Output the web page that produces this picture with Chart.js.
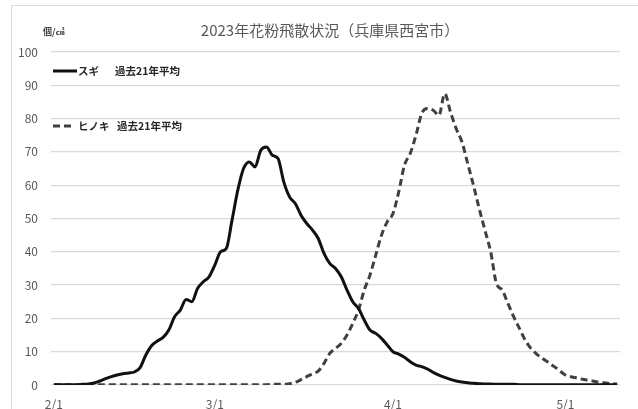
<!DOCTYPE html>
<html>
<head>
<meta charset="utf-8">
<script src="https://cdn.jsdelivr.net/npm/chart.js@4/dist/chart.umd.min.js"></script>
<style>
  html, body { margin: 0; padding: 0; background: #fff; }
  #wrap { position: relative; width: 638px; height: 409px; }
</style>
</head>
<body>
<div id="wrap"><canvas id="c"></canvas></div>
<script>
// ---- data ----
const monthSpans = [[2, 28], [3, 31], [4, 30], [5, 10]];
const tickLabels = ['2/1', '3/1', '4/1', '5/1'];
const yTicks = [0, 10, 20, 30, 40, 50, 60, 70, 80, 90, 100];
const titleText = '2023年花粉飛散状況（兵庫県西宮市）';
const unitText = '個/㎠';
const seriesNames = ['スギ', 'ヒノキ'];
const legendSuffix = '過去21年平均';

const sugi = [
  0.1, 0.1, 0.1, 0.1, 0.1, 0.2, 0.3, 0.6, 1.2, 1.9,
  2.5, 3.0, 3.4, 3.6, 3.9, 5.2, 9.0, 11.8, 13.2, 14.3,
  16.5, 20.5, 22.5, 25.7, 25.0, 29.0, 31.0, 32.5, 36.0, 40.0,
  41.0, 49.5, 58.5, 65.0, 67.0, 65.5, 70.5, 71.5, 69.0, 68.0,
  61.0, 56.5, 54.5, 51.0, 48.5, 46.5, 44.0, 39.5, 36.5, 35.0,
  32.5, 28.5, 25.0, 23.0, 19.5, 16.5, 15.5, 14.0, 12.0, 10.0,
  9.3, 8.3, 7.0, 6.0, 5.5, 4.8, 3.8, 3.0, 2.3, 1.7,
  1.2, 0.9, 0.7, 0.5, 0.4, 0.3, 0.3, 0.2, 0.2, 0.2,
  0.2, 0.1, 0.1, 0.1, 0.1, 0.1, 0.1, 0.1, 0.1, 0.1,
  0.1, 0.1, 0.1, 0.1, 0.1, 0.1, 0.1, 0.1, 0.1
];
const hinoki = [
  0.1, 0.1, 0.1, 0.1, 0.1, 0.1, 0.1, 0.1, 0.1, 0.1,
  0.1, 0.1, 0.1, 0.1, 0.1, 0.1, 0.1, 0.1, 0.1, 0.1,
  0.1, 0.1, 0.1, 0.1, 0.1, 0.1, 0.1, 0.1, 0.1, 0.1,
  0.1, 0.1, 0.1, 0.1, 0.1, 0.1, 0.1, 0.1, 0.2, 0.2,
  0.2, 0.4, 0.8, 1.6, 2.5, 3.4, 4.2, 6.5, 9.5, 11.0,
  12.5, 15.0, 18.5, 22.5, 28.5, 33.0, 39.0, 45.0, 49.0, 51.5,
  58.0, 66.0, 69.5, 75.0, 81.5, 83.0, 82.5, 81.0, 87.5, 82.0,
  77.0, 73.0, 66.5, 60.0, 53.0, 46.5, 40.0, 30.5, 28.5, 24.5,
  20.5, 17.0, 13.5, 11.0, 9.3, 8.0, 6.8, 5.6, 4.3, 3.0,
  2.5, 2.1, 1.7, 1.4, 1.1, 0.8, 0.6, 0.4, 0.3
];

// categories: every day from 2/1
const categories = [];
monthSpans.forEach(([m, n]) => { for (let d = 1; d <= n; d++) categories.push(m + '/' + d); });

const FONT = '"Noto Sans CJK JP", "Noto Sans", sans-serif';

const decorPlugin = {
  id: 'decor',
  beforeDraw(chart) {
    const ctx = chart.ctx;
    ctx.save();
    ctx.strokeStyle = '#d9d9d9';
    ctx.lineWidth = 1;
    ctx.beginPath();
    ctx.moveTo(11.5, 420); ctx.lineTo(11.5, 5.5); ctx.lineTo(650, 5.5);
    ctx.stroke();
    ctx.restore();
  },
  afterDraw(chart) {
    const ctx = chart.ctx;
    ctx.save();
    // title
    ctx.fillStyle = '#595959';
    ctx.font = '15px ' + FONT;
    ctx.textAlign = 'center';
    ctx.textBaseline = 'middle';
    ctx.fillText(titleText, 330, 30);
    // unit
    ctx.fillStyle = '#404040';
    ctx.font = 'bold 9px ' + FONT;
    ctx.textAlign = 'left';
    ctx.fillText(unitText, 43, 32);
    // legend
    const items = [
      { y: 71, dash: [], color: '#111111', name: seriesNames[0], x2: 115 },
      { y: 126, dash: [7, 4], color: '#404040', name: seriesNames[1], x2: 117 }
    ];
    items.forEach(it => {
      ctx.strokeStyle = it.color;
      ctx.lineWidth = 3;
      ctx.setLineDash(it.dash);
      ctx.beginPath();
      ctx.moveTo(53, it.y); ctx.lineTo(it.dash.length ? 73 : 77, it.y);
      ctx.stroke();
      ctx.setLineDash([]);
      ctx.fillStyle = '#262626';
      ctx.font = 'bold 10.5px ' + FONT;
      ctx.textAlign = 'left';
      ctx.textBaseline = 'middle';
      ctx.fillText(it.name, 78, it.y);
      ctx.fillText(legendSuffix, it.x2, it.y);
    });
    ctx.restore();
  }
};

new Chart(document.getElementById('c'), {
  type: 'line',
  data: {
    labels: categories,
    datasets: [
      {
        label: seriesNames[0] + ' ' + legendSuffix,
        data: sugi,
        borderColor: '#111111',
        borderWidth: 3,
        pointRadius: 0,
        fill: false,
        cubicInterpolationMode: 'monotone'
      },
      {
        label: seriesNames[1] + ' ' + legendSuffix,
        data: hinoki,
        borderColor: '#404040',
        borderWidth: 3,
        borderDash: [7, 4],
        pointRadius: 0,
        fill: false,
        cubicInterpolationMode: 'monotone'
      }
    ]
  },
  options: {
    responsive: true,
    maintainAspectRatio: false,
    animation: false,
    layout: { padding: { left: 0, top: 52, right: 18, bottom: 0 } },
    plugins: {
      legend: { display: false },
      title: { display: false },
      tooltip: { enabled: false }
    },
    scales: {
      x: {
        type: 'category',
        offset: true,
        grid: { display: false, drawTicks: false },
        border: { display: false },
        afterFit(s) { s.height = 24; },
        ticks: {
          autoSkip: false,
          maxRotation: 0,
          padding: 12,
          color: '#595959',
          font: { family: FONT, size: 12 },
          callback(v) {
            const l = categories[v];
            return tickLabels.includes(l) ? l : '';
          }
        }
      },
      y: {
        min: 0,
        max: 100,
        afterFit(s) { s.width = 51; },
        afterBuildTicks(s) { s.ticks = yTicks.map(v => ({ value: v })); },
        grid: { color: '#d9d9d9', lineWidth: 1.3, drawTicks: false },
        border: { display: false },
        ticks: {
          padding: 13,
          color: '#595959',
          font: { family: FONT, size: 12 }
        }
      }
    }
  },
  plugins: [decorPlugin]
});
</script>
</body>
</html>
